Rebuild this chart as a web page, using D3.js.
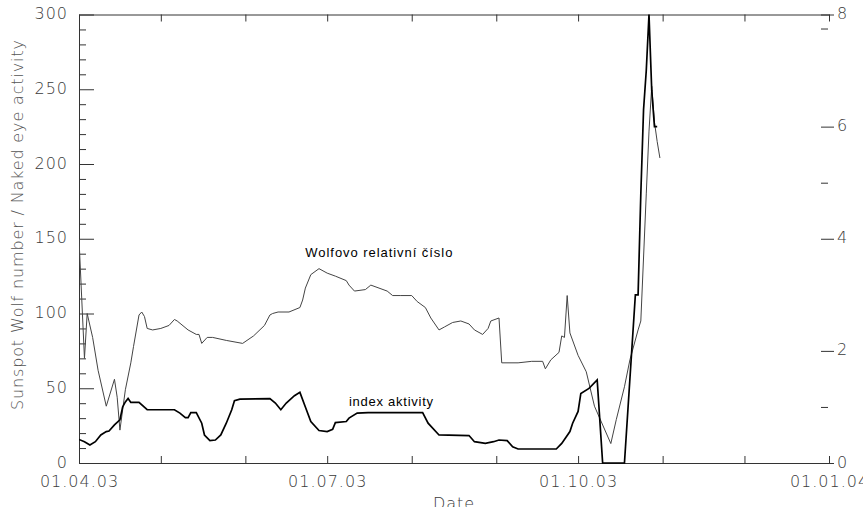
<!DOCTYPE html>
<html>
<head>
<meta charset="utf-8">
<script src="https://cdn.jsdelivr.net/npm/d3@7"></script>
<style>
  body { margin: 0; background: #fff; }
  .tick text { font-family: "DejaVu Sans", sans-serif; font-weight: 200; font-size: 16px; fill: #3a3a3a; letter-spacing: 1px; }
  .note { font-family: "Liberation Sans", Arial, sans-serif; font-size: 13px; fill: #000; }
</style>
</head>
<body>
<div id="chart"></div>
<script>
// Wolf number (left axis)
var wolfDates = ["2003-04-01","2003-04-03","2003-04-04","2003-04-06","2003-04-08","2003-04-11","2003-04-14","2003-04-15",
  "2003-04-16","2003-04-18","2003-04-20","2003-04-21","2003-04-23","2003-04-24","2003-04-25","2003-04-26","2003-04-28",
  "2003-05-01","2003-05-04","2003-05-06","2003-05-07","2003-05-11","2003-05-14","2003-05-15","2003-05-16","2003-05-18",
  "2003-05-20","2003-05-25","2003-05-31","2003-06-04","2003-06-08","2003-06-10","2003-06-11","2003-06-13","2003-06-17",
  "2003-06-21","2003-06-22","2003-06-23","2003-06-25","2003-06-28","2003-07-01","2003-07-04","2003-07-08","2003-07-09",
  "2003-07-11","2003-07-15","2003-07-17","2003-07-20","2003-07-23","2003-07-25","2003-07-28","2003-08-01","2003-08-03",
  "2003-08-06","2003-08-08","2003-08-11","2003-08-13","2003-08-16","2003-08-19","2003-08-22","2003-08-24","2003-08-27",
  "2003-08-29","2003-08-30","2003-09-02","2003-09-03","2003-09-09","2003-09-14","2003-09-18","2003-09-19","2003-09-21",
  "2003-09-24","2003-09-25","2003-09-26","2003-09-27","2003-09-28","2003-10-01","2003-10-04","2003-10-07","2003-10-13",
  "2003-10-15","2003-10-18","2003-10-20","2003-10-23","2003-10-24","2003-10-26","2003-10-27","2003-10-28","2003-10-29",
  "2003-10-30","2003-10-31"];
var wolfValues = [150,70,100,84,62,38,56,44,
  22,49,67,78,99,101,98,90,89,
  90,92,96,95,89,86,86,80,84,
  84,82,80,85,92,99,100,101,101,
  104,109,117,126,130,127,125,122,119,
  115,116,119,117,115,112,112,112,108,
  104,97,89,91,94,95,93,89,86,
  90,95,97,67,67,68,68,63,69,
  74,85,84,112,87,72,61,38,13,
  29,51,69,89,95,180,222,252,228,
  215,204];

// activity index (right axis)
var indexDates = ["2003-04-01","2003-04-03","2003-04-05","2003-04-07","2003-04-09","2003-04-11","2003-04-12","2003-04-14",
  "2003-04-16","2003-04-17","2003-04-18","2003-04-19","2003-04-20","2003-04-23","2003-04-26","2003-05-06","2003-05-08",
  "2003-05-10","2003-05-11","2003-05-12","2003-05-14","2003-05-16","2003-05-17","2003-05-19","2003-05-21","2003-05-23",
  "2003-05-25","2003-05-27","2003-05-28","2003-05-30","2003-06-10","2003-06-12","2003-06-14","2003-06-16","2003-06-19",
  "2003-06-21","2003-06-23","2003-06-25","2003-06-28","2003-07-01","2003-07-03","2003-07-04","2003-07-08","2003-07-09",
  "2003-07-12","2003-07-16","2003-08-05","2003-08-07","2003-08-11","2003-08-22","2003-08-24","2003-08-28","2003-08-31",
  "2003-09-02","2003-09-05","2003-09-07","2003-09-09","2003-09-23","2003-09-25","2003-09-28","2003-09-29","2003-10-01",
  "2003-10-02","2003-10-05","2003-10-08","2003-10-10","2003-10-18","2003-10-22","2003-10-23","2003-10-24","2003-10-25",
  "2003-10-26","2003-10-27","2003-10-28","2003-10-29","2003-10-30"];
var indexValues = [0.42,0.38,0.32,0.38,0.5,0.56,0.57,0.68,
  0.77,1.0,1.09,1.15,1.08,1.08,0.95,0.95,0.89,
  0.81,0.81,0.9,0.9,0.71,0.5,0.4,0.41,0.5,
  0.71,0.95,1.11,1.14,1.15,1.07,0.95,1.07,1.2,
  1.26,1.0,0.74,0.58,0.56,0.6,0.72,0.74,0.8,
  0.89,0.9,0.9,0.71,0.5,0.49,0.38,0.35,0.38,
  0.41,0.4,0.29,0.25,0.25,0.35,0.56,0.71,0.92,
  1.24,1.33,1.48,0,0,3.0,3.0,4.8,6.3,
  7.0,8.0,6.65,6.0,6.0];

var monthTicks = ["2003-04-01","2003-05-01","2003-06-01","2003-07-01","2003-08-01","2003-09-01",
  "2003-10-01","2003-11-01","2003-12-01","2004-01-01"];
var labelTicks = ["2003-04-01","2003-07-01","2003-10-01","2004-01-01"];
var leftMajor = [0, 50, 100, 150, 200, 250, 300];
var leftMinor = d3.range(0, 301, 10).filter(function(v) { return v % 50 != 0; });
var rightMajor = [0, 2, 4, 6, 8];
var rightMinor = [1, 5, 7.75];

var w = 863, h = 507;
var margin = {top: 14.5, right: 34, bottom: 44, left: 79};
var width = w - margin.left - margin.right,
    height = h - margin.top - margin.bottom;

var parse = d3.timeParse("%Y-%m-%d");
var fmt = d3.timeFormat("%d.%m.%y");
var key = d3.timeFormat("%Y-%m-%d");

var svg = d3.select("#chart")
  .append("svg")
  .attr("width", w)
  .attr("height", h);

var g = svg.append("g")
  .attr("transform", "translate(" + margin.left + "," + margin.top + ")");

var x = d3.scaleTime()
  .domain([parse("2003-04-01"), parse("2004-01-01")])
  .range([0, width]);
var yL = d3.scaleLinear().domain([0, 300]).range([height, 0]);
var yR = d3.scaleLinear().domain([0, 8]).range([height, 0]);

// bottom axis
g.append("g")
  .attr("class", "axis")
  .attr("transform", "translate(0," + height + ")")
  .call(d3.axisBottom(x)
    .tickValues(monthTicks.map(parse))
    .tickSizeInner(-7).tickSizeOuter(0).tickPadding(13)
    .tickFormat(function(d) { return labelTicks.indexOf(key(d)) >= 0 ? fmt(d) : ""; }));

// top axis
g.append("g")
  .attr("class", "axis")
  .call(d3.axisTop(x)
    .tickValues(monthTicks.map(parse))
    .tickSizeInner(-7).tickSizeOuter(0)
    .tickFormat(""));

// left axis
g.append("g")
  .attr("class", "axis left")
  .call(d3.axisLeft(yL)
    .tickValues(leftMajor)
    .tickSizeInner(-15).tickSizeOuter(0).tickPadding(11));
g.append("g")
  .attr("class", "axis minor")
  .call(d3.axisLeft(yL)
    .tickValues(leftMinor)
    .tickSize(-7).tickFormat(""))
  .select(".domain").remove();

// right axis (no line)
g.append("g")
  .attr("class", "axis right")
  .attr("transform", "translate(" + (width + 5) + ",0)")
  .call(d3.axisRight(yR)
    .tickValues(rightMajor)
    .tickSizeInner(-13).tickSizeOuter(0).tickPadding(3))
  .select(".domain").remove();
g.append("g")
  .attr("class", "axis")
  .attr("transform", "translate(" + (width - 1) + ",0)")
  .call(d3.axisRight(yR)
    .tickValues(rightMinor)
    .tickSize(-7).tickFormat(""))
  .select(".domain").remove();

g.selectAll(".axis path, .axis line").attr("stroke", "#333").attr("stroke-width", 1);
g.selectAll(".left .tick text, .right .tick text").attr("dy", "0.25em");

// clip
svg.append("clipPath").attr("id", "clip")
  .append("rect").attr("x", 0).attr("y", -1).attr("width", width).attr("height", height + 2);

var plot = g.append("g").attr("clip-path", "url(#clip)");

var wolfData = wolfDates.map(function(d, i) { return {date: parse(d), v: wolfValues[i]}; });
var indexData = indexDates.map(function(d, i) { return {date: parse(d), v: indexValues[i]}; });

plot.append("path")
  .datum(wolfData)
  .attr("fill", "none")
  .attr("stroke", "#444")
  .attr("stroke-width", 1)
  .attr("d", d3.line().x(function(d) { return x(d.date); }).y(function(d) { return yL(d.v); }));

plot.append("path")
  .datum(indexData)
  .attr("fill", "none")
  .attr("stroke", "#000")
  .attr("stroke-width", 1.7)
  .attr("d", d3.line().x(function(d) { return x(d.date); }).y(function(d) { return yR(d.v); }));

// annotations
g.append("text").attr("class", "note")
  .attr("x", x(parse("2003-06-23"))).attr("y", yL(138))
  .attr("textLength", 147).attr("lengthAdjust", "spacing")
  .text("Wolfovo relativní číslo");
g.append("text").attr("class", "note")
  .attr("x", x(parse("2003-07-09"))).attr("y", yL(38))
  .attr("textLength", 84).attr("lengthAdjust", "spacing")
  .text("index aktivity");

// axis titles
svg.append("text")
  .attr("transform", "translate(23,225)rotate(-90)")
  .attr("text-anchor", "middle")
  .attr("textLength", 370).attr("lengthAdjust", "spacing")
  .style("font-family", "DejaVu Sans, sans-serif").style("font-weight", 200)
  .style("font-size", "16px").style("fill", "#555")
  .text("Sunspot Wolf number / Naked eye activity");

svg.append("text")
  .attr("x", margin.left + width / 2).attr("y", 509)
  .attr("text-anchor", "middle")
  .style("font-family", "DejaVu Sans, sans-serif").style("font-weight", 200)
  .style("font-size", "16px").style("fill", "#3a3a3a").style("letter-spacing", "1px")
  .text("Date");
</script>
</body>
</html>
